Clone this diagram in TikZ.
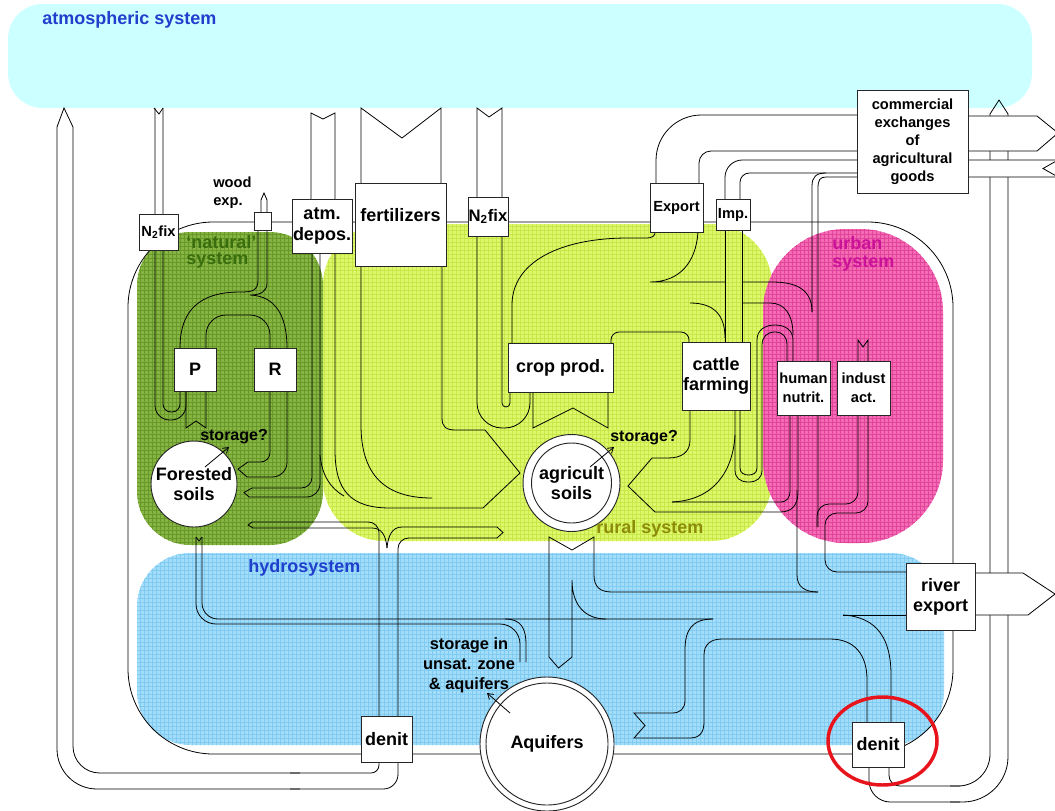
\documentclass[tikz,border=0pt]{standalone}
\usepackage{fontspec}
\setmainfont{Liberation Sans}
\usetikzlibrary{patterns,arrows.meta,shapes.geometric}
\definecolor{atmc}{HTML}{CCFFFF}
\definecolor{natc}{HTML}{86B544}
\definecolor{natg}{HTML}{68982A}
\definecolor{rurc}{HTML}{DDF86C}
\definecolor{rurg}{HTML}{C8E645}
\definecolor{urbc}{HTML}{F26BB3}
\definecolor{urbg}{HTML}{E2449C}
\definecolor{hydc}{HTML}{A3DDFA}
\definecolor{hydg}{HTML}{80CBF2}
\definecolor{bluetxt}{HTML}{1F3FCC}
\definecolor{nattxt}{HTML}{3A6E0E}
\definecolor{urbtxt}{HTML}{CC1199}
\definecolor{rurtxt}{HTML}{8C8C0A}
\definecolor{ringred}{HTML}{E8141C}
\begin{document}
\begin{tikzpicture}[x=0.75pt,y=-0.75pt,
  ln/.style={line width=0.6pt},
  bx/.style={draw=black!85, line width=0.7pt, fill=white, inner sep=0pt, align=center,
    font=\fontsize{13.5}{15.5}\selectfont\bfseries},
  sbx/.style={bx, font=\fontsize{11}{13.5}\selectfont\bfseries},
  tx/.style={inner sep=0pt, align=center, font=\fontsize{13.5}{15.5}\selectfont\bfseries},
  stx/.style={inner sep=0pt, align=center, font=\fontsize{12}{15}\selectfont\bfseries},
  rgn/.style={inner sep=0pt, align=left, font=\fontsize{13.5}{13}\selectfont\bfseries},
  sarr/.style={ln, -{Straight Barb[length=4pt,width=5pt]}}
]
\useasboundingbox (0,0) rectangle (1055,810);

% ---------- background regions ----------
\fill[atmc, rounded corners=26pt] (8,4) rectangle (1032,108);
\fill[natc, postaction={pattern=grid, pattern color=natg}, rounded corners=40pt] (137,232) rectangle (323,545);
\fill[rurc, postaction={pattern=grid, pattern color=rurg}, rounded corners=46pt] (323,224) rectangle (772,541);
\fill[urbc, postaction={pattern=grid, pattern color=urbg}, rounded corners=62pt] (763,229) rectangle (943,543);
\fill[hydc, postaction={pattern=grid, pattern color=hydg}, rounded corners=40pt] (137,553) rectangle (944,745);

% ---------- outer bands to the atmosphere ----------
\draw[ln] (57,127)--(64,108)--(73,127);
\draw[ln,rounded corners=20pt] (73,127)--(73,773)--(300,773);
\draw[ln,rounded corners=6pt] (290,773)--(379,773)--(379,762);
\draw[ln,rounded corners=30pt] (57,127)--(57,789)--(300,789);
\draw[ln,rounded corners=11pt] (290,789)--(398,789)--(398,762);

\draw[ln] (990,114)--(999,100)--(1008,114);
\draw[ln,rounded corners=24pt] (990,114)--(990,786)--(950,786);
\draw[ln,rounded corners=8pt] (960,786)--(889,786)--(889,767);
\draw[ln,rounded corners=34pt] (1008,114)--(1008,802)--(950,802);
\draw[ln,rounded corners=16pt] (960,802)--(869,802)--(869,767);

% ---------- system boundary ----------
\draw[ln, rounded corners=64pt] (128,222) rectangle (953,754);

% ---------- natural system flows ----------
\draw[ln] (154,108)--(159,114)--(163,108);
\draw[ln,rounded corners=11pt] (155,108)--(155,420)--(186,420)--(186,391);
\draw[ln,rounded corners=6pt] (163,108)--(163,412)--(180,412)--(180,391);
\draw[ln] (186,391)--(186,428)--(196,421)--(206,428)--(206,391);

\draw[ln] (261,212)--(261,200)--(264,193)--(267,200)--(267,212);
\draw[ln] (258,230)--(258,280) .. controls (258,291) and (252,292) .. (240,292) .. controls (200,292) and (180,310) .. (180,348);
\draw[ln] (267,230)--(267,283) .. controls (267,292) and (260,295) .. (250,295) .. controls (275,296) and (287,315) .. (287,348);
\draw[ln,rounded corners=15pt] (206,348)--(206,315)--(270,315)--(270,348);

\draw[ln,rounded corners=7pt] (270,391)--(270,462)--(248,462);
\draw[ln] (248,462)--(238,469)--(247,477);
\draw[ln,rounded corners=11pt] (247,477)--(287,477)--(287,391);

\draw[ln] (311,199)--(311,113)--(323,119)--(335,113)--(335,199);
\draw[ln,rounded corners=8pt] (312,253)--(312,488)--(252,488);
\draw[ln] (252,488)--(244,492.5)--(249,497);
\draw[ln,rounded corners=10pt] (249,497)--(320,497)--(320,253);
\draw[ln] (320,455) .. controls (322,475) and (330,488) .. (344,496);

% ---------- rural system flows ----------
\draw[ln] (361,183)--(361,108)--(402,138)--(441,108)--(441,183);
\draw[ln] (335,253)--(335,450) .. controls (335,490) and (350,508) .. (390,508) -- (483,508) -- (520,473);
\draw[ln] (361,266)--(361,425) .. controls (361,475) and (385,498) .. (432,498);
\draw[ln] (442,266)--(442,418) .. controls (442,427) and (446,430) .. (456,430) -- (485,430) -- (520,473);

\draw[ln] (477,197)--(477,108)--(489,117)--(502,108)--(502,197);
\draw[ln,rounded corners=19pt] (477,236)--(477,428)--(530,428)--(530,392);
\draw[ln,rounded corners=3pt] (502,236)--(502,407)--(510,407)--(510,392);
\draw[ln] (533,392)--(533,428)--(573,408)--(608,428)--(608,392);

\draw[ln] (512,343)--(512,305) .. controls (512,262) and (560,238) .. (628,238) -- (645,238) .. controls (653,238) and (655,236) .. (655,232);
\draw[ln] (698,232) .. controls (696,262) and (680,282) .. (650,282) -- (725,282);
\draw[ln] (742,282) -- (772,282) .. controls (800,282) and (812,292) .. (812,312);
\draw[ln] (690,303) .. controls (714,303) and (725,315) .. (725,338);
\draw[ln] (742,303) -- (770,303) .. controls (785,303) and (793,315) .. (793,335);
\draw[ln,rounded corners=6pt] (611,343)--(611,332)--(689,332)--(689,342);

% export / import bands
\draw[ln,rounded corners=34pt] (656,183)--(656,115)--(857,115);
\draw[ln,rounded corners=9pt] (699,183)--(699,151)--(857,151);
\draw[ln,rounded corners=13pt] (725,199)--(725,160)--(857,160);
\draw[ln,rounded corners=7pt] (740,199)--(740,173)--(857,173);
\draw[ln] (725,230)--(725,342);
\draw[ln] (742,230)--(742,342);
\draw[ln] (812,312)--(812,186) .. controls (812,177) and (816,173) .. (826,173);
\draw[ln] (857,177)--(826,177) .. controls (820,177) and (818,180) .. (818,188) -- (818,527);

% cattle - human loop
\draw[ln] (735,410)--(735,470) .. controls (735,478) and (740,482) .. (748.5,482) .. controls (757,482) and (762,478) .. (762,470) -- (762,345) .. controls (762,337) and (767,332) .. (775,332) .. controls (783,332) and (787,337) .. (787,345) -- (787,361);
\draw[ln] (740,410)--(740,468) .. controls (740,473) and (744,475) .. (748.5,475) .. controls (753,475) and (757,473) .. (757,468) -- (757,340) .. controls (757,330) and (765,325) .. (775,325) .. controls (785,325) and (793,330) .. (793,340) -- (793,361);

% manure / sewage to soils
\draw[ln] (690,410)--(690,440) .. controls (690,452) and (682,458) .. (668,458) -- (652,458) -- (628,486) -- (655,512) -- (780,512) .. controls (792,512) and (798,505) .. (798,492) -- (798,415);
\draw[ln] (672,502) -- (780,502) .. controls (787,502) and (790,498) .. (790,490) -- (790,415);
\draw[ln] (735,435) .. controls (733,470) and (715,500) .. (672,502);
\draw[ln] (797,490) -- (797,575) .. controls (797,587) and (805,592) .. (818,592);

% industry
\draw[ln] (858,361)--(858,340)--(863,347)--(868,340)--(868,361);
\draw[ln,rounded corners=9pt] (858,415)--(858,504)--(817,504)--(817,527);
\draw[ln,rounded corners=9pt] (868,415)--(868,513)--(825,513)--(825,572)--(906,572);

% ---------- hydrosystem flows ----------
\draw[ln] (549,657)--(549,537)--(572,550)--(594,537)--(594,575) .. controls (594,587) and (600,592) .. (612,592) -- (818,592);
\draw[ln] (549,657)--(558.5,668)--(572,657);
\draw[ln] (572,657)--(572,580) .. controls (572,605) and (585,619) .. (606,619);

\draw[ln] (196,537)--(199,541)--(202,537);
\draw[ln,rounded corners=15pt] (196,537)--(196,624)--(520,624)--(520,662);
\draw[ln,rounded corners=12pt] (202,537)--(202,619)--(713,619);
\draw[ln] (505,619) .. controls (521,619) and (526,628) .. (526,645) -- (526,662);
\draw[ln] (713,619) .. controls (692,619) and (685,630) .. (685,650) -- (685,700) .. controls (685,709) and (680,713) .. (672,713) -- (634,713) -- (645,725.5) -- (634,738) -- (690,738) .. controls (700,738) and (704,732) .. (704,722) -- (704,655) .. controls (704,645) and (710,639) .. (722,639) -- (830,639) .. controls (855,639) and (867,655) .. (867,680) -- (867,722);
\draw[ln] (843,615)--(906,615);
\draw[ln] (843,615) .. controls (878,617) and (891,640) .. (891,675) -- (891,722);

\draw[ln] (252,522)--(248,525)--(253,528);
\draw[ln,rounded corners=8pt] (252,522)--(379,522)--(379,716);
\draw[ln] (253,528)--(372,528) .. controls (382,528) and (386,536) .. (387,548);
\draw[ln] (497,527)--(503,532.5)--(497,538);
\draw[ln] (497,527)--(402,527) .. controls (392,527) and (388,536) .. (387,548);
\draw[ln,rounded corners=8pt] (497,538)--(398,538)--(398,716);

% ---------- white arrows at right ----------
\filldraw[ln, fill=white] (968,116)--(1037,116)--(1058,133)--(1037,151)--(968,151);
\filldraw[ln, fill=white] (968,160)--(1058,160)--(1043,168.5)--(1058,177)--(968,177);
\filldraw[ln, fill=white] (975,573)--(1023,573)--(1055,594)--(1028,615)--(975,615);

% ---------- boxes ----------
\node[sbx, minimum width=29.25pt, minimum height=27pt] (n2l) at (158.5,232) {N\textsubscript{2}fix};
\node[sbx, minimum width=12.75pt, minimum height=13.5pt] (wood) at (262.5,221) {};
\node[bx, minimum width=45pt, minimum height=40.5pt] (atm) at (322,226) {atm.\\depos.};
\node[bx, minimum width=68.25pt, minimum height=62.25pt] (fert) at (400.5,224.5) {};
\node[tx] (fertt) at (400.5,215) {fertilizers};
\node[bx, font=\fontsize{12.5}{14}\selectfont\bfseries, minimum width=30pt, minimum height=29.25pt] (n2m) at (488,216.5) {N\textsubscript{2}fix};
\node[sbx, minimum width=39.75pt, minimum height=36.75pt] (exp) at (676.5,207.5) {Export};
\node[sbx, minimum width=25.5pt, minimum height=23.25pt] (imp) at (733,214.5) {Imp.};
\node[sbx, minimum width=83.25pt, minimum height=77.25pt] (comm) at (912.5,141.5) {commercial\\exchanges\\of\\agricultural\\goods};
\node[bx, minimum width=31.5pt, minimum height=32.25pt] (P) at (195,369.5) {P};
\node[bx, minimum width=31.5pt, minimum height=32.25pt] (R) at (275,369.5) {R};
\node[bx, minimum width=78.75pt, minimum height=36.75pt] (crop) at (560.5,367.5) {crop prod.};
\node[bx, minimum width=51pt, minimum height=51pt] (cattle) at (716,376) {cattle\\farming};
\node[sbx, font=\fontsize{11}{14}\selectfont\bfseries, minimum width=39.75pt, minimum height=40.5pt] (hn) at (803.5,388) {human\\nutrit.};
\node[sbx, font=\fontsize{11}{14}\selectfont\bfseries, minimum width=39.75pt, minimum height=40.5pt] (ind) at (863.5,388) {indust\\act.};
\node[bx, font=\fontsize{13.5}{15}\selectfont\bfseries, minimum width=51.75pt, minimum height=50.25pt] (river) at (940.5,596.5) {river\\export};
\node[bx, minimum width=38.25pt, minimum height=34.5pt] (denL) at (386.5,739) {denit};
\node[bx, minimum width=39pt, minimum height=33.75pt] (denR) at (878,744.5) {denit};

% ---------- soils and aquifers ----------
\node[bx, circle, minimum size=64.5pt] (forest) at (194,484) {Forested\\soils};
\node[bx, circle, minimum size=72.75pt] (agro) at (571.5,483) {};
\node[bx, circle, minimum size=60pt] (agri) at (571.5,483) {agricult\\soils};
\node[bx, circle, minimum size=100.5pt] (aqo) at (547,744) {};
\node[bx, circle, minimum size=91.5pt] (aq) at (547,744) {Aquifers};

% ---------- labels ----------
\node[rgn, text=bluetxt, anchor=base west] (atmlbl) at (42,24) {atmospheric system};
\node[rgn, text=nattxt, anchor=west, font=\fontsize{13.5}{12}\selectfont\bfseries] (natlbl) at (186,252) {‘natural’\\system};
\node[rgn, text=urbtxt, anchor=west] (urblbl) at (832,254) {urban\\system};
\node[rgn, text=rurtxt, anchor=base west] (rurlbl) at (596,533) {rural system};
\node[rgn, text=bluetxt, anchor=base west] (hydlbl) at (248,572) {hydrosystem};
\node[inner sep=0pt, align=left, anchor=west, font=\fontsize{11}{13.5}\selectfont\bfseries] (woodlbl) at (213,193) {wood\\exp.};
\node[stx, anchor=base west] (st1) at (200,440) {storage?};
\node[stx, anchor=base west] (st2) at (610,441) {storage?};
\node[stx, font=\fontsize{12.3}{15}\selectfont\bfseries] (st3) at (469,665) {storage in\\unsat. zone\\\& aquifers};

\draw[sarr] (205,467)--(229,447);
\draw[sarr] (590,467)--(614,447);
\draw[sarr] (510,713)--(487,693);

% ---------- highlight ----------
\node[draw=ringred, ellipse, line width=2.6pt, minimum width=81.75pt, minimum height=66pt, inner sep=0pt] (ring) at (882.5,741) {};
\end{tikzpicture}
\end{document}
